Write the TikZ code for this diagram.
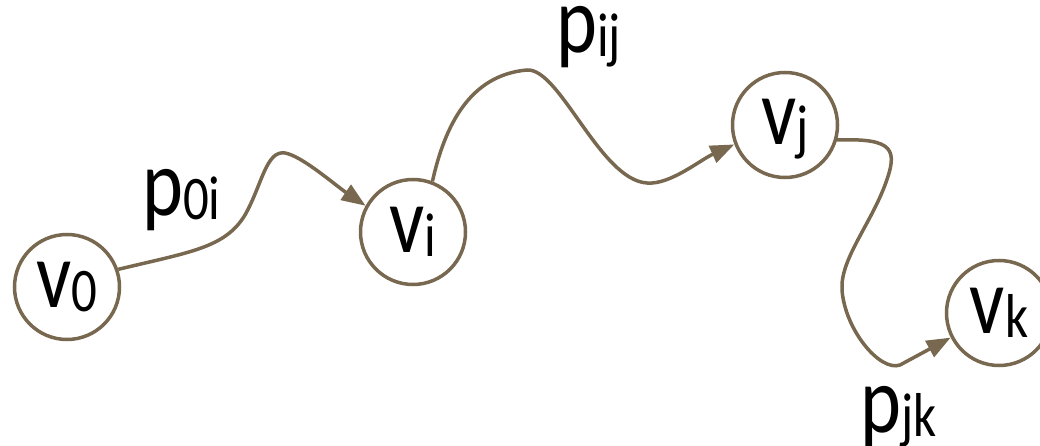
\documentclass[tikz,border=0pt]{standalone}
\usepackage{fontspec}
\setmainfont{Carlito}[FakeStretch=0.82]
\usetikzlibrary{arrows.meta}
\definecolor{walkbrown}{RGB}{120,104,80}
\newcommand{\lsub}[1]{\raisebox{-4pt}{\fontsize{62}{68}\selectfont #1}}

\begin{document}
\begin{tikzpicture}[x=1pt,y=-1pt,
  vert/.style={circle, draw=walkbrown, line width=3.5pt, minimum size=105pt, inner sep=0pt,
    text height=40pt, text depth=0pt, font=\fontsize{95}{100}\selectfont},
  walk/.style={draw=walkbrown, line width=3.5pt, -{Triangle[length=24pt,width=18pt]}},
  lbl/.style={anchor=base west, inner sep=0pt, font=\fontsize{95}{100}\selectfont}]
\useasboundingbox (0,0) rectangle (1040,446);

% vertices
\node[vert] (v0) at (67,287) {v\lsub{0}};
\node[vert] (vi) at (413,232) {v\lsub{i}};
\node[vert] (vj) at (785,125) {v\lsub{j}};
\node[vert] (vk) at (999,313) {v\lsub{k}};

% walks between them
\draw[walk] (v0.19) .. controls (190,252) and (225,248) .. (245,215)
  .. controls (262,185) and (266,150) .. (285,153)
  .. controls (302,156) and (335,185) .. (vi.151);
\draw[walk] (vi.69) .. controls (445,125) and (470,75) .. (527,70)
  .. controls (560,68) and (600,180) .. (647,183)
  .. controls (670,185) and (700,160) .. (vj.201);
\draw[walk] (vj.-16) .. controls (895,138) and (898,150) .. (885,185)
  .. controls (870,225) and (840,260) .. (842,290)
  .. controls (845,330) and (880,372) .. (900,365) -- (vk.207);

% walk labels
\node[lbl] (p0i) at (142,215) {p\lsub{0i}};
\node[lbl] (pij) at (556,53) {p\lsub{ij}};
\node[lbl] (pjk) at (860,432) {p\lsub{jk}};
\end{tikzpicture}
\end{document}
